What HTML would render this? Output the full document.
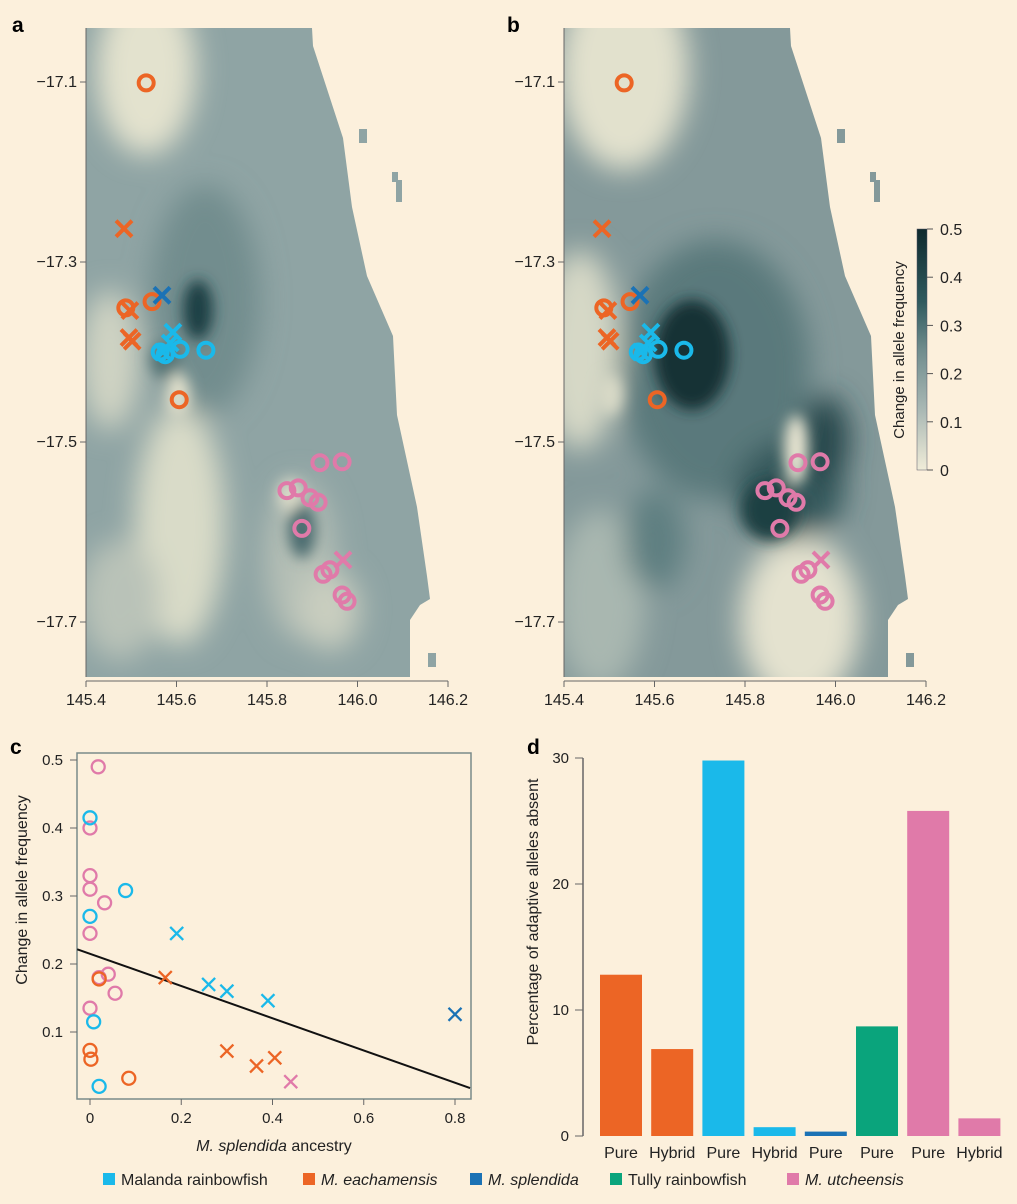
<!DOCTYPE html>
<html><head><meta charset="utf-8">
<style>
body{margin:0;background:#fcf0dc;}
svg{display:block;font-family:"Liberation Sans",sans-serif;}
</style></head>
<body>
<svg id="fig" width="1017" height="1204" viewBox="0 0 1017 1204" xmlns="http://www.w3.org/2000/svg">
<defs>
<filter id="blur" x="-50%" y="-50%" width="200%" height="200%"><feGaussianBlur stdDeviation="14"/></filter>
<filter id="blur2" x="-50%" y="-50%" width="200%" height="200%"><feGaussianBlur stdDeviation="7"/></filter>
<clipPath id="clipA"><path d="M86,28 L312,28 L313,46 L328,92 L343,138 L352,207 L367,276 L393,336 L397,415 L417,507 L427,576 L430,599 L420,605 L410,620 L410,677 L86,677 Z"/></clipPath>
<clipPath id="clipB"><path transform="translate(478,0)" d="M86,28 L312,28 L313,46 L328,92 L343,138 L352,207 L367,276 L393,336 L397,415 L417,507 L427,576 L430,599 L420,605 L410,620 L410,677 L86,677 Z"/></clipPath>
<linearGradient id="cbar" x1="0" y1="1" x2="0" y2="0">
<stop offset="0" stop-color="#f0ecd8"/><stop offset="0.25" stop-color="#a9b8b4"/><stop offset="0.5" stop-color="#6f8c8d"/><stop offset="0.7" stop-color="#2f5a5e"/><stop offset="1" stop-color="#0e2a2e"/>
</linearGradient>
</defs>
<rect width="1017" height="1204" fill="#fcf0dc"/>
<g id="mapA" clip-path="url(#clipA)">
<rect x="80" y="20" width="360" height="670" fill="#8fa4a4"/>
<g filter="url(#blur)">
<ellipse cx="146" cy="70" rx="50" ry="85" fill="#e3e2ce"/>
<ellipse cx="110" cy="360" rx="30" ry="70" fill="#cfd3c3"/>
<ellipse cx="180" cy="525" rx="45" ry="120" fill="#d9dbc8"/>
<ellipse cx="120" cy="600" rx="40" ry="60" fill="#b9c2b8"/>
<ellipse cx="205" cy="300" rx="55" ry="115" fill="#728d8e"/>
<ellipse cx="300" cy="560" rx="35" ry="80" fill="#b5bfb6"/>
<ellipse cx="330" cy="610" rx="30" ry="40" fill="#c9cebf"/>
</g>
<g filter="url(#blur2)">
<ellipse cx="198" cy="310" rx="15" ry="30" fill="#1f4044"/>
<ellipse cx="178" cy="395" rx="12" ry="22" fill="#e0dfcb"/>
<ellipse cx="165" cy="360" rx="15" ry="18" fill="#557476"/>
<ellipse cx="302" cy="530" rx="14" ry="28" fill="#4b6c6f"/>
<ellipse cx="290" cy="495" rx="12" ry="16" fill="#dcdcc9"/>
</g>
</g>
<rect x="359" y="129" width="8" height="14" fill="#8fa4a4"/>
<rect x="392" y="172" width="6" height="10" fill="#8fa4a4"/>
<rect x="396" y="180" width="6" height="22" fill="#8fa4a4"/>
<rect x="428" y="653" width="8" height="14" fill="#8fa4a4"/>
<g id="mapB" clip-path="url(#clipB)">
<rect x="558" y="20" width="360" height="670" fill="#84999a"/>
<g filter="url(#blur)">
<ellipse cx="624" cy="70" rx="65" ry="100" fill="#e2e1cd"/>
<ellipse cx="580" cy="350" rx="40" ry="100" fill="#d6d8c6"/>
<ellipse cx="600" cy="600" rx="45" ry="90" fill="#a9b7b0"/>
<ellipse cx="715" cy="370" rx="95" ry="130" fill="#5a797b"/>
<ellipse cx="800" cy="620" rx="60" ry="85" fill="#e4e2cf"/>
<ellipse cx="655" cy="540" rx="30" ry="50" fill="#5f7f81"/>
<ellipse cx="790" cy="490" rx="55" ry="50" fill="#34595c"/>
<ellipse cx="825" cy="440" rx="25" ry="45" fill="#25474b"/>
</g>
<g filter="url(#blur2)">
<ellipse cx="692" cy="355" rx="38" ry="55" fill="#123135"/>
<ellipse cx="796" cy="450" rx="12" ry="35" fill="#e8e5d2"/>
<ellipse cx="770" cy="510" rx="28" ry="30" fill="#1d3f43"/>
<ellipse cx="610" cy="395" rx="12" ry="20" fill="#d9dac7"/>
</g>
</g>
<rect x="837" y="129" width="8" height="14" fill="#84999a"/>
<rect x="870" y="172" width="6" height="10" fill="#84999a"/>
<rect x="874" y="180" width="6" height="22" fill="#84999a"/>
<rect x="906" y="653" width="8" height="14" fill="#84999a"/>
<g id="cb">
<rect x="917" y="229" width="10" height="241" fill="url(#cbar)" stroke="#556" stroke-width="0.5"/>
<text transform="translate(904,350) rotate(-90)" text-anchor="middle" font-size="15" fill="#222">Change in allele frequency</text>
</g>
<g id="layer"></g>
</svg>
<script>
const mapLons=[145.4,145.6,145.8,146.0,146.2];
const mapLats=[-17.1,-17.3,-17.5,-17.7];
const siteLon=[145.533,145.488,145.546,145.606,145.484,145.497,145.502,145.495,145.568,145.592,145.586,145.570,145.575,145.608,145.665,145.564,145.917,145.966,145.844,145.869,145.895,145.913,145.877,145.924,145.939,145.966,145.977,145.968];
const siteLat=[-17.101,-17.351,-17.344,-17.453,-17.263,-17.354,-17.388,-17.384,-17.337,-17.378,-17.39,-17.400,-17.403,-17.397,-17.398,-17.400,-17.523,-17.522,-17.554,-17.551,-17.562,-17.567,-17.596,-17.647,-17.642,-17.670,-17.677,-17.631];
const siteSp=['e','e','e','e','e','e','e','e','s','m','m','m','m','m','m','m','u','u','u','u','u','u','u','u','u','u','u','u'];
const siteShape=['o','o','o','o','x','x','x','x','x','x','x','x','o','o','o','o','o','o','o','o','o','o','o','o','o','o','o','x'];
const cbTicks=[0,0.1,0.2,0.3,0.4,0.5];
const ancestry=[0.018,0,0,0,0.032,0,0.04,0.02,0.055,0,0,0.078,0,0.008,0.02,0,0.002,0.02,0.085,0.19,0.26,0.3,0.39,0.165,0.3,0.365,0.405,0.44,0.8];
const deltaAF=[0.49,0.40,0.33,0.31,0.29,0.245,0.185,0.18,0.157,0.135,0.415,0.308,0.27,0.115,0.02,0.073,0.06,0.178,0.032,0.245,0.17,0.16,0.146,0.18,0.072,0.05,0.062,0.027,0.126];
const ptSp=['u','u','u','u','u','u','u','u','u','u','m','m','m','m','m','e','e','e','e','m','m','m','m','e','e','e','e','u','s'];
const ptShape=['o','o','o','o','o','o','o','o','o','o','o','o','o','o','o','o','o','o','o','x','x','x','x','x','x','x','x','x','x'];
const fitLine=[0.215,-0.237];
const cXTicks=[0,0.2,0.4,0.6,0.8];
const cYTicks=[0.1,0.2,0.3,0.4,0.5];
const barLabels=['Pure','Hybrid','Pure','Hybrid','Pure','Pure','Pure','Hybrid'];
const barValues=[12.8,6.9,29.8,0.7,0.35,8.7,25.8,1.4];
const barSp=['e','e','m','m','s','t','u','u'];
const dYTicks=[0,10,20,30];
const legendNames=['Malanda rainbowfish','M. eachamensis','M. splendida','Tully rainbowfish','M. utcheensis'];
const legendKeys=['m','e','s','t','u'];

const COL={m:'#1ab9ea',e:'#ec6525',s:'#1b72b5',t:'#0aa47c',u:'#e07aa9'};
const NS='http://www.w3.org/2000/svg';
const L=document.getElementById('layer');
function mk(tag,at,parent){const e=document.createElementNS(NS,tag);for(const k in at)e.setAttribute(k,at[k]);(parent||L).appendChild(e);return e;}
function txt(x,y,s,at){const e=mk('text',Object.assign({x:x,y:y,'font-size':15,fill:'#222'},at||{}));e.textContent=s;return e;}
function marker(x,y,shape,col,r,sw){
  let e;
  if(shape==='o'){e=mk('circle',{cx:x,cy:y,r:r,fill:'none',stroke:col,'stroke-width':sw});}
  else{e=mk('path',{d:`M${x-r},${y-r}L${x+r},${y+r}M${x-r},${y+r}L${x+r},${y-r}`,stroke:col,'stroke-width':sw,fill:'none'});}
  return e;
}
[['a',12,32],['b',507,32],['c',10,754],['d',527,754]].forEach(p=>{
  const t=txt(p[1],p[2],p[0],{'font-size':21,'font-weight':'bold',fill:'#000'});
  
  
});
[0,478].forEach((off,pi)=>{
  const lx=v=>86+off+(v-145.4)*452.5;
  const ly=v=>82+(-17.1-v)*900;
  const ax=mk('line',{x1:86+off,y1:28,x2:86+off,y2:677,stroke:'#666','stroke-width':1});
  
  
  const bx=mk('line',{x1:lx(145.4),y1:681,x2:lx(146.2),y2:681,stroke:'#666','stroke-width':1});
  
  
  mapLats.forEach(v=>{
    mk('line',{x1:80+off,y1:ly(v),x2:86+off,y2:ly(v),stroke:'#666'});
    const t=txt(77+off,ly(v)+5,'\u2212'+Math.abs(v).toFixed(1),{'text-anchor':'end','font-size':16});
    
    
  });
  mapLons.forEach(v=>{
    mk('line',{x1:lx(v),y1:681,x2:lx(v),y2:687,stroke:'#666'});
    const t=txt(lx(v),705,v.toFixed(1),{'text-anchor':'middle','font-size':16});
    
    
  });
  siteLon.forEach((v,i)=>{
    const m=marker(lx(v),ly(siteLat[i]),siteShape[i],COL[siteSp[i]],siteShape[i]==='o'?7.5:8,4);
    
    
  });
});
cbTicks.forEach(v=>{
  const y=470-v/0.5*241;
  mk('line',{x1:927,y1:y,x2:933,y2:y,stroke:'#555'});
  const t=txt(940,y+6,String(v),{'font-size':16});
  
  
});
const cx=v=>90+v*456.25;
const cy=v=>760+(0.5-v)*680;
const box=mk('rect',{x:77,y:753,width:394,height:346,fill:'none',stroke:'#7a8a8a','stroke-width':1.5});


cXTicks.forEach(v=>{
  mk('line',{x1:cx(v),y1:1099,x2:cx(v),y2:1105,stroke:'#666'});
  const t=txt(cx(v),1123,v===0?'0':v.toFixed(1),{'text-anchor':'middle'});
  
  
});
cYTicks.forEach(v=>{
  mk('line',{x1:70,y1:cy(v),x2:77,y2:cy(v),stroke:'#666'});
  const t=txt(63,cy(v)+5,v.toFixed(1),{'text-anchor':'end'});
  
  
});
const xl=mk('text',{x:274,y:1151,'text-anchor':'middle','font-size':16,fill:'#222'});
xl.innerHTML='<tspan font-style="italic">M. splendida</tspan> ancestry';


const yl=txt(0,0,'Change in allele frequency',{'text-anchor':'middle','font-size':16,transform:'translate(27,890) rotate(-90)'});


const x0=-0.028,x1=0.833;
const fl=mk('line',{x1:cx(x0),y1:cy(fitLine[0]+fitLine[1]*x0),x2:cx(x1),y2:cy(fitLine[0]+fitLine[1]*x1),stroke:'#111','stroke-width':2});


ancestry.forEach((v,i)=>{
  const m=marker(cx(v),cy(deltaAF[i]),ptShape[i],COL[ptSp[i]],6.5,2.3);
  
  
});
const dy=v=>1136-v*12.6;
const dax=mk('line',{x1:583,y1:dy(30),x2:583,y2:dy(0),stroke:'#666','stroke-width':1.5});


dYTicks.forEach(v=>{
  mk('line',{x1:575,y1:dy(v),x2:583,y2:dy(v),stroke:'#666'});
  const t=txt(569,dy(v)+5,String(v),{'text-anchor':'end'});
  
  
});
const dyl=txt(0,0,'Percentage of adaptive alleles absent',{'text-anchor':'middle','font-size':16,transform:'translate(538,912) rotate(-90)'});


barValues.forEach((v,i)=>{
  const x=600+i*51.2;
  const b=mk('rect',{x:x,y:dy(v),width:42,height:dy(0)-dy(v),fill:COL[barSp[i]]});
  
  
  const t=txt(x+21,1158,barLabels[i],{'text-anchor':'middle','font-size':16});
  
  
});
const legX=[103,303,470,610,787];
legendNames.forEach((n,i)=>{
  const g=mk('g',{});
  
  
  mk('rect',{x:legX[i],y:1173,width:12,height:12,fill:COL[legendKeys[i]]},g);
  const t=mk('text',{x:legX[i]+18,y:1185,'font-size':16,fill:'#222','font-style':n.startsWith('M. ')?'italic':'normal'},g);
  t.textContent=n;
});
</script>
</body></html>
